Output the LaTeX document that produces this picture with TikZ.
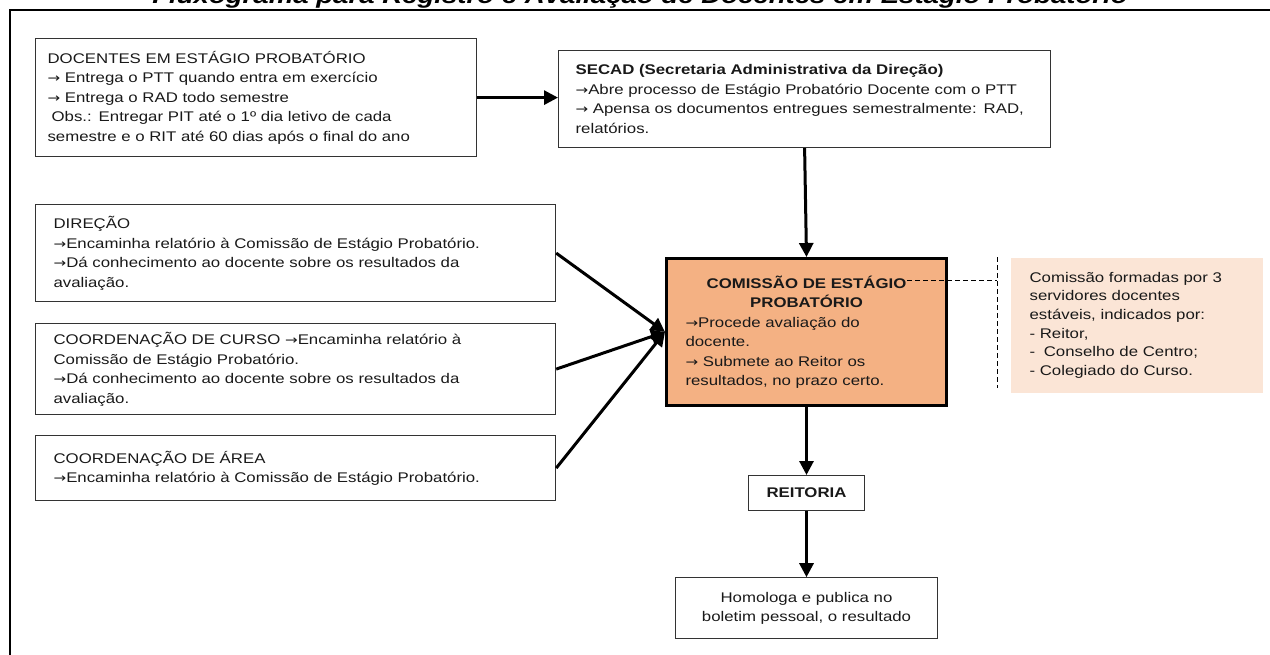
\documentclass[tikz,border=0pt]{standalone}
\usepackage{fontspec}
\setmainfont{Liberation Sans}[FakeStretch=1.2]
\newfontfamily\setafont{DejaVu Sans}[FakeStretch=1.2, Scale=0.9]
\newcommand{\seta}{{\setafont →}}
\usepackage{tikz}
\usetikzlibrary{positioning, arrows.meta}

\definecolor{laranja}{HTML}{F4B183}
\definecolor{pessego}{HTML}{FBE5D6}

\begin{document}
\begin{tikzpicture}[x=0.5pt, y=-0.5pt,
  caixa/.style={draw=black!80, line width=0.6pt, anchor=north west, inner ysep=0pt,
    text=black!90, font=\fontsize{7}{9.75}\selectfont},
  seta/.style={line width=1.5pt, -{Triangle[length=7pt, width=7pt]}},
  traco/.style={line width=0.5pt, dash pattern=on 2.5pt off 1.5pt}]
\useasboundingbox (0,0) rectangle (1270,654);
\clip (0,0) rectangle (1270,654);
% titulo e moldura
\node[anchor=base, font=\fontsize{11.5}{12}\selectfont\bfseries\itshape] (titulo) at (640,3)
  {Fluxograma para Registro e Avaliação de Docentes em Estágio Probatório};
\draw[line width=1.3pt] (10,700) -- (10,10) -- (1300,10);
% docentes
\node[caixa, align=left, inner xsep=6pt, text width=208.5pt, minimum width=220.5pt, minimum height=59pt] (doc) at (35,38)
  {DOCENTES EM ESTÁGIO PROBATÓRIO\\ \seta{} Entrega o PTT quando entra em exercício\\ \seta{} Entrega o RAD todo semestre\\
   \hspace*{2pt}Obs.: Entregar PIT até o 1º dia letivo de cada\\ semestre e o RIT até 60 dias após o final do ano};
% secad
\node[caixa, align=left, inner xsep=8.5pt, text width=229pt, minimum width=246pt, minimum height=48.5pt] (secad) at (558,50)
  {\textbf{SECAD (Secretaria Administrativa da Direção)}\\ \seta Abre processo de Estágio Probatório Docente com o PTT\\
   \seta{} Apensa os documentos entregues semestralmente: RAD,\\ relatórios.};
% direcao, coordenacoes
\node[caixa, align=left, inner xsep=9pt, text width=242pt, minimum width=260pt, minimum height=48.5pt] (dir) at (35,204)
  {DIREÇÃO\\ \seta Encaminha relatório à Comissão de Estágio Probatório.\\
   \seta Dá conhecimento ao docente sobre os resultados da\\ avaliação.};
\node[caixa, align=left, inner xsep=9pt, text width=242pt, minimum width=260pt, minimum height=45.5pt] (curso) at (35,323)
  {COORDENAÇÃO DE CURSO \seta Encaminha relatório à\\ Comissão de Estágio Probatório.\\
   \seta Dá conhecimento ao docente sobre os resultados da\\ avaliação.};
\node[caixa, align=left, inner xsep=9pt, text width=242pt, minimum width=260pt, minimum height=32.5pt] (area) at (35,435)
  {COORDENAÇÃO DE ÁREA\\ \seta Encaminha relatório à Comissão de Estágio Probatório.};
% comissao
\node[caixa, line width=1.5pt, draw=black, fill=laranja, inner xsep=9.5pt, text width=121pt, minimum width=140pt, minimum height=73.5pt] (com) at (665,257)
  {{\centering\bfseries COMISSÃO DE ESTÁGIO\\ PROBATÓRIO\par}
   \seta Procede avaliação do\\ docente.\\ \seta{} Submete ao Reitor os\\ resultados, no prazo certo.};
% nota
\node[caixa, draw=none, fill=pessego, align=left, inner xsep=9.5pt, text width=107pt, minimum width=126pt, minimum height=67.5pt,
  font=\fontsize{7}{9.3}\selectfont] (nota) at (1010,257)
  {Comissão formadas por 3\\ servidores docentes\\ estáveis, indicados por:\\ - Reitor,\\ -\hspace{2pt} Conselho de Centro;\\ - Colegiado do Curso.};
\coordinate (ta) at (907,280);
\coordinate (tb) at (997,280);
\coordinate (va) at (997,257);
\coordinate (vb) at (997,388);
\draw[traco] (ta) -- (tb);
\draw[traco] (va) -- (vb);
% reitoria e homologa
\node[caixa, anchor=north, align=center, minimum width=58pt, minimum height=17.5pt, font=\fontsize{7}{9.75}\selectfont\bfseries,
  below=34pt of com] (reit) {REITORIA};
\node[caixa, anchor=north, align=center, text width=120pt, minimum width=131pt, minimum height=30.5pt,
  below=33pt of reit] (hom) {Homologa e publica no\\ boletim pessoal, o resultado};
% setas
\draw[seta] (doc.east) -- (doc.east -| secad.west);
\draw[seta] (secad.south) -- (com.north);
\draw[seta] (dir.east) -- (com.west);
\draw[seta] (curso.east) -- (com.west);
\draw[seta] (area.east) -- (com.west);
\draw[seta] (com.south) -- (reit.north);
\draw[seta] (reit.south) -- (hom.north);
\end{tikzpicture}
\end{document}
